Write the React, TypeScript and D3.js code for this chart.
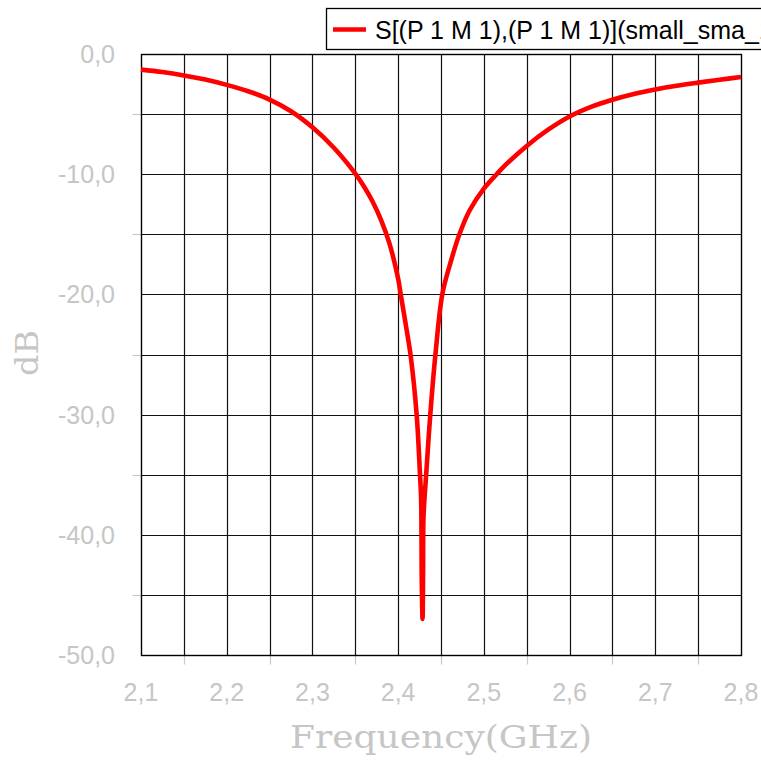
import React from "react";
import * as d3 from "d3";

// Return loss sweep of port 1 (dB vs GHz)
const freqGHz = [
  2.1, 2.125, 2.15, 2.175, 2.2, 2.225, 2.25, 2.275, 2.3, 2.325, 2.35, 2.36, 2.37, 2.38, 2.39,
  2.4, 2.403, 2.41, 2.4146, 2.4216, 2.4255, 2.4268, 2.4276, 2.4285, 2.4291, 2.4296, 2.4327,
  2.4375, 2.4435, 2.4515, 2.4605, 2.4715, 2.4835, 2.5, 2.515, 2.525, 2.55, 2.575, 2.6, 2.625,
  2.65, 2.675, 2.7, 2.725, 2.75, 2.775, 2.8,
];
const s11dB = [
  -1.3, -1.5, -1.78, -2.13, -2.57, -3.1, -3.79, -4.76, -6.1, -7.8, -9.95, -11.0, -12.25, -13.8,
  -15.8, -18.7, -20.0, -23.0, -25.1, -30.0, -35.0, -37.0, -44.0, -47.0, -43.0, -38.5, -35.0,
  -30.0, -25.0, -20.0, -17.5, -15.0, -13.0, -11.2, -10.0, -9.25, -7.65, -6.3, -5.2, -4.4,
  -3.8, -3.32, -2.95, -2.64, -2.38, -2.14, -1.92,
];

const xLabelTicks = [2.1, 2.2, 2.3, 2.4, 2.5, 2.6, 2.7, 2.8];
const xMinorTicks = [2.15, 2.25, 2.35, 2.45, 2.55, 2.65, 2.75];
const xGrid = [2.15, 2.2, 2.25, 2.3, 2.35, 2.4, 2.45, 2.5, 2.55, 2.6, 2.65, 2.7, 2.75];
const yLabelTicks = [0, -10, -20, -30, -40, -50];
const yMinorTicks = [-5, -15, -25, -35, -45];
const yGrid = [-5, -10, -15, -20, -25, -30, -35, -40, -45];

const seriesName = "S[(P 1 M 1),(P 1 M 1)](small_sma_1)";
const xTitle = "Frequency(GHz)";
const yTitle = "dB";

const W = 761;
const H = 760;
const plot = { left: 141, right: 741, top: 54, bottom: 655 };

const fmt = (v: number) => v.toFixed(1).replace(".", ",");

export default function App() {
  const x = d3.scaleLinear().domain([2.1, 2.8]).range([plot.left, plot.right]);
  const y = d3.scaleLinear().domain([0, -50]).range([plot.top, plot.bottom]);
  // snap hairlines to the pixel grid
  const sx = (v: number) => Math.round(x(v)) + 0.5;
  const sy = (v: number) => Math.round(y(v)) + 0.5;

  const pts: [number, number][] = freqGHz.map((f, i) => [f, s11dB[i]]);
  const line = d3
    .line<[number, number]>()
    .x((d) => x(d[0]))
    .y((d) => y(d[1]))
    .curve(d3.curveCatmullRom.alpha(0.5));

  const labelColor = "#c6c6c6";
  const sans = "'Liberation Sans', Arial, sans-serif";
  const serif = "'DejaVu Serif', 'Liberation Serif', serif";

  return (
    <svg
      width={W}
      height={H}
      viewBox={`0 0 ${W} ${H}`}
      style={{ position: "absolute", left: 0, top: 0, background: "#fff" }}
    >
      <rect x={0} y={0} width={W} height={H} fill="#fff" />

      {/* grid */}
      <g stroke="#111" strokeWidth={1.2}>
        {xGrid.map((v) => (
          <line key={"gx" + v} x1={sx(v)} x2={sx(v)} y1={sy(0)} y2={sy(-50)} />
        ))}
        {yGrid.map((v) => (
          <line key={"gy" + v} x1={sx(2.1)} x2={sx(2.8)} y1={sy(v)} y2={sy(v)} />
        ))}
      </g>

      {/* minor ticks outside the frame */}
      <g stroke="#c8c8c8" strokeWidth={1.2}>
        {yMinorTicks.map((v) => (
          <line key={"ty" + v} x1={sx(2.1) - 9} x2={sx(2.1)} y1={sy(v)} y2={sy(v)} />
        ))}
        {xMinorTicks.map((v) => (
          <line key={"tx" + v} x1={sx(v)} x2={sx(v)} y1={sy(-50)} y2={sy(-50) + 9} />
        ))}
      </g>

      {/* frame */}
      <rect
        x={sx(2.1)}
        y={sy(0)}
        width={sx(2.8) - sx(2.1)}
        height={sy(-50) - sy(0)}
        fill="none"
        stroke="#000"
        strokeWidth={1.4}
      />

      {/* curve */}
      <path d={line(pts) || ""} fill="none" stroke="#ff0000" strokeWidth={4.6} strokeLinejoin="round" />

      {/* y tick labels */}
      <g fill={labelColor} fontFamily={sans} fontSize={25} textAnchor="end">
        {yLabelTicks.map((v) => (
          <text key={"ly" + v} x={115} y={y(v) + 9}>
            {fmt(v)}
          </text>
        ))}
      </g>

      {/* x tick labels */}
      <g fill={labelColor} fontFamily={sans} fontSize={25} textAnchor="middle">
        {xLabelTicks.map((v) => (
          <text key={"lx" + v} x={x(v)} y={701}>
            {fmt(v)}
          </text>
        ))}
      </g>

      {/* axis titles */}
      <text
        x={290}
        y={748}
        fill={labelColor}
        fontFamily={serif}
        fontSize={32}
        textLength={302}
        lengthAdjust="spacingAndGlyphs"
      >
        {xTitle}
      </text>
      <text
        transform="translate(38,376) rotate(-90)"
        fill={labelColor}
        fontFamily={serif}
        fontSize={32}
        textLength={46}
        lengthAdjust="spacingAndGlyphs"
      >
        {yTitle}
      </text>

      {/* legend */}
      <rect x={326.5} y={8.5} width={520} height={41} fill="#fff" stroke="#000" strokeWidth={1.3} />
      <line x1={333} x2={366} y1={29.5} y2={29.5} stroke="#ff0000" strokeWidth={4.6} />
      <text x={375} y={39} fontFamily={sans} fontSize={25} fill="#000">
        {seriesName}
      </text>
    </svg>
  );
}
